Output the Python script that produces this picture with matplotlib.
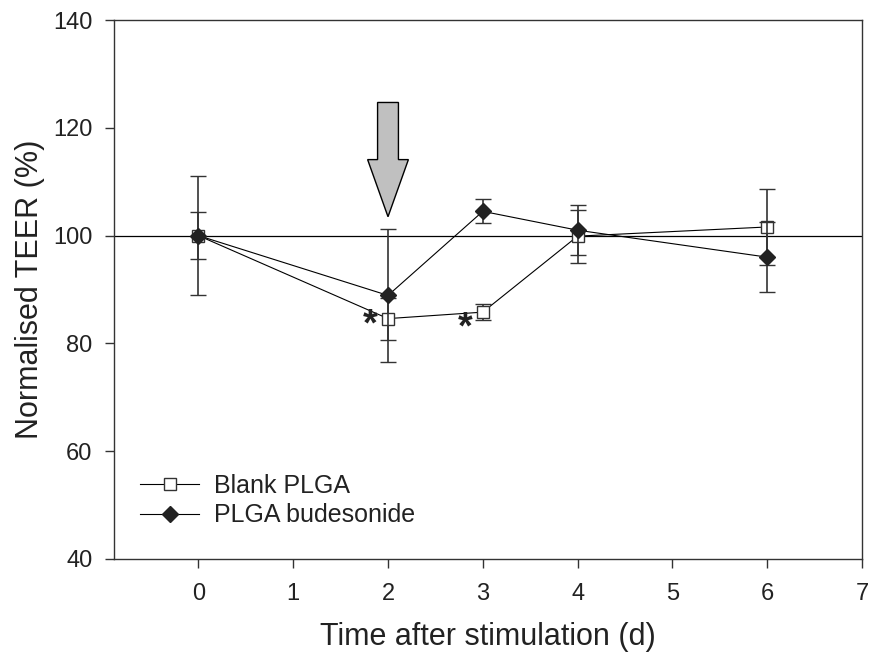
import matplotlib
matplotlib.use('Agg')
import matplotlib.pyplot as plt
from matplotlib.lines import Line2D

# days after stimulation
days = [0, 2, 3, 4, 6]

# Blank PLGA
blank = [100, 84.6, 85.8, 99.9, 101.6]
blank_err = [4.3, 3.9, 1.5, 4.9, 7.1]

# PLGA budesonide
bud = [100, 88.9, 104.5, 101.0, 96.0]
bud_err = [11.0, 12.4, 2.2, 4.6, 6.5]

# significance marks
star_x = [1.81, 2.81]
star_y = [83.3, 82.7]

plt.rcParams['font.family'] = ['Liberation Sans', 'DejaVu Sans']
txt = '#222222'
ecol = '#333333'

fig = plt.figure(figsize=(8.69, 6.54), dpi=100)
ax = fig.add_axes([0.1312, 0.1453, 0.8608, 0.8241])

ax.axhline(100, color='k', lw=0.9, zorder=1)

sq = dict(marker='s', ms=8.5, mfc='white', mec='#333333', mew=1.0)
dm = dict(marker='D', ms=8, mfc='#222222', mec='#222222', mew=1.0)

ax.errorbar(days, blank, yerr=blank_err, color='k', lw=0.8, ecolor=ecol,
            elinewidth=1.2, capsize=5.8, capthick=1.2, zorder=2, **sq)
ax.errorbar(days, bud, yerr=bud_err, color='k', lw=0.8, ecolor=ecol,
            elinewidth=1.2, capsize=5.8, capthick=1.2, zorder=3, **dm)

for sx, sy in zip(star_x, star_y):
    ax.text(sx, sy, '*', fontsize=27, fontweight='bold', ha='center',
            va='center', color=txt)

# stimulation arrow
ax.arrow(2, 124.7, 0, -21.2, width=0.22, head_width=0.43, head_length=10.6,
         length_includes_head=True, fc='#c0c0c0', ec='k', lw=1.0, zorder=4)

ax.set_xlim(-0.89, 7)
ax.set_ylim(40, 140)
ax.set_xticks(range(0, 8))
ax.set_yticks(range(40, 141, 20))
ax.tick_params(direction='out', length=6.5, width=1.0, colors='#333333',
               labelsize=17, labelcolor=txt)
ax.tick_params(axis='y', pad=9)
ax.tick_params(axis='x', pad=11)
for sp in ax.spines.values():
    sp.set_color('#333333')
    sp.set_linewidth(1.0)

ax.set_xlabel('Time after stimulation (d)', fontsize=22, color=txt, labelpad=12)
ax.set_ylabel('Normalised TEER (%)', fontsize=22, color=txt, labelpad=6)

handles = [Line2D([], [], color='k', lw=0.8, **sq),
           Line2D([], [], color='k', lw=0.8, **dm)]
leg = ax.legend(handles, ['Blank PLGA', 'PLGA budesonide'], loc='lower left',
                bbox_to_anchor=(0.005, 0.017), frameon=False,
                fontsize=18, handlelength=2.35, handletextpad=0.6,
                labelspacing=0.22, borderaxespad=0.5)
for t in leg.get_texts():
    t.set_color(txt)

fig.savefig('out.png', dpi=100)
